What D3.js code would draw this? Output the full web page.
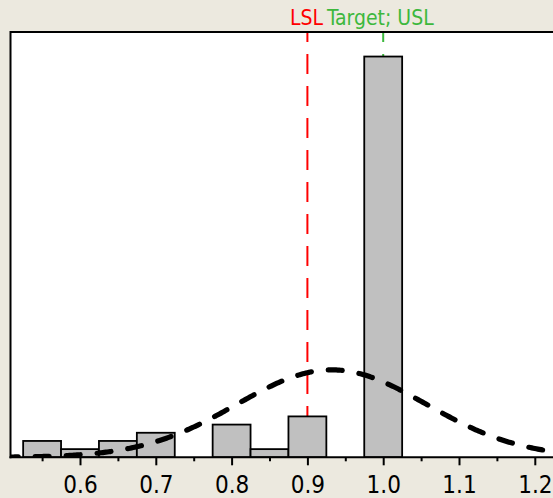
<!DOCTYPE html>
<html><head><meta charset="utf-8">
<script src="https://cdn.jsdelivr.net/npm/d3@7"></script>
<style>html,body{margin:0;padding:0;background:#ece9df;} svg{display:block}</style>
</head><body><svg id="chart" width="553" height="498"></svg>
<script>
// ---- data ----
const binCenters = [0.55, 0.60, 0.65, 0.70, 0.75, 0.80, 0.85, 0.90, 0.95, 1.00, 1.05, 1.10, 1.15, 1.20];
const binCounts  = [2, 1, 2, 3, 0, 4, 1, 5, 0, 49, 0, 0, 0, 0];
const binWidth = 0.05;
const fitMean = 0.932;
const fitStDev = 0.125;
const specLabels = ["LSL", "Target; USL"];
const specValues = [0.9, 1.0];
const specColors = ["#ff0000", "#3db83d"];
const majorTicks = [0.6, 0.7, 0.8, 0.9, 1.0, 1.1, 1.2];
const minorTicks = [0.55, 0.65, 0.75, 0.85, 0.95, 1.05, 1.15];

// ---- layout ----
const W = 553, H = 498;
const plotLeft = 10.5, plotTop = 32, plotBottom = 457.3, plotRight = W + 5;
const svg = d3.select("#chart");
const font = "'DejaVu Sans Condensed', 'DejaVu Sans', sans-serif";

const x = d3.scaleLinear().domain([0.6, 1.2]).range([80, 534.8]);
const y = d3.scaleLinear().domain([0, 52]).range([plotBottom, plotTop]);

svg.append("rect").attr("width", W).attr("height", H).attr("fill", "#ece9df");
svg.append("defs").append("clipPath").attr("id", "plotclip")
  .append("rect").attr("x", plotLeft).attr("y", plotTop)
  .attr("width", plotRight - plotLeft).attr("height", plotBottom - plotTop);
svg.append("rect").attr("x", plotLeft).attr("y", plotTop)
  .attr("width", plotRight - plotLeft).attr("height", plotBottom - plotTop).attr("fill", "#ffffff");

const plot = svg.append("g").attr("clip-path", "url(#plotclip)");

const bins = binCenters.map((c, i) => ({c, n: binCounts[i]}));

// spec lines (behind bars)
specValues.forEach((v, i) => {
  plot.append("line")
    .attr("x1", x(v)).attr("x2", x(v))
    .attr("y1", plotTop).attr("y2", plotBottom)
    .attr("stroke", specColors[i]).attr("stroke-width", 2)
    .attr("stroke-dasharray", "20,12").attr("stroke-dashoffset", 10);
});

// bars
plot.selectAll("rect.bar").data(bins.filter(b => b.n > 0)).join("rect")
  .attr("class", "bar")
  .attr("x", d => x(d.c - binWidth / 2))
  .attr("width", d => x(d.c + binWidth / 2) - x(d.c - binWidth / 2))
  .attr("y", d => y(d.n))
  .attr("height", d => y(0) - y(d.n))
  .attr("fill", "#c0c0c0").attr("stroke", "#000").attr("stroke-width", 1.8);

// fitted normal curve
const total = d3.sum(binCounts);
const pdf = v => total * binWidth / (fitStDev * Math.sqrt(2 * Math.PI)) *
  Math.exp(-0.5 * Math.pow((v - fitMean) / fitStDev, 2));
const xs = d3.range(0.5, 1.3001, 0.002);
plot.append("path")
  .attr("d", d3.line().x(v => x(v)).y(v => y(pdf(v)))(xs))
  .attr("fill", "none").attr("stroke", "#000").attr("stroke-width", 5.2)
  .attr("stroke-linecap", "round").attr("stroke-dasharray", "14,17");

// frame
svg.append("line").attr("x1", plotLeft).attr("x2", W).attr("y1", plotTop).attr("y2", plotTop)
  .attr("stroke", "#000").attr("stroke-width", 2);
svg.append("line").attr("x1", plotLeft).attr("x2", plotLeft).attr("y1", plotTop - 1).attr("y2", plotBottom + 1)
  .attr("stroke", "#000").attr("stroke-width", 2);

// x axis
const axisG = svg.append("g").attr("transform", `translate(0,${plotBottom})`);
const major = axisG.append("g").call(d3.axisBottom(x).tickValues(majorTicks).tickSize(8)
  .tickFormat(d3.format(".1f")));
major.select(".domain").remove();
major.selectAll(".tick line").attr("stroke", "#000").attr("stroke-width", 2);
major.selectAll(".tick text").attr("y", 36).attr("dy", 0)
  .attr("font-family", font).attr("font-size", 24).attr("fill", "#000");
const minor = axisG.append("g").call(d3.axisBottom(x).tickValues(minorTicks).tickSize(4).tickFormat(""));
minor.select(".domain").remove();
minor.selectAll(".tick line").attr("stroke", "#000").attr("stroke-width", 2);
axisG.append("line").attr("x1", plotLeft - 1).attr("x2", W).attr("y1", 0).attr("y2", 0)
  .attr("stroke", "#000").attr("stroke-width", 2);

// spec labels
const lsl = svg.append("text").attr("x", x(specValues[0]) - 1).attr("y", 25)
  .attr("text-anchor", "middle").attr("font-family", font).attr("font-size", 21)
  .attr("fill", specColors[0]).text(specLabels[0]);
const lslEnd = x(specValues[0]) - 1 + lsl.node().getComputedTextLength() / 2;
svg.append("text").attr("x", lslEnd + 4).attr("y", 25)
  .attr("text-anchor", "start").attr("font-family", font).attr("font-size", 21)
  .attr("fill", specColors[1]).text(specLabels[1]);
</script></body></html>
